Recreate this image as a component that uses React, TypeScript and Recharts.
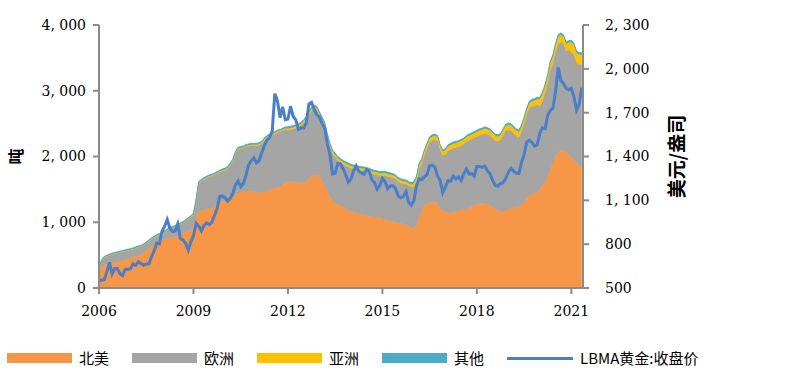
import { ComposedChart, Area, Line, XAxis, YAxis } from "recharts";

// monthly points, Jan 2006 .. May 2021
const startYear = 2006;
const yearTicks = [2006, 2009, 2012, 2015, 2018, 2021];
const tonTicks = [0, 1000, 2000, 3000, 4000];
const priceTicks = [500, 800, 1100, 1400, 1700, 2000, 2300];

// 北美 (tonnes)
const northAmerica = [
  275, 320, 350, 360, 370, 380, 385, 395, 405, 415, 425, 440,
  455, 470, 480, 495, 505, 530, 570, 600, 630, 660, 700, 725,
  730, 740, 760, 770, 775, 780, 790, 810, 835, 850, 870, 880,
  950, 1100, 1150, 1180, 1190, 1200, 1210, 1220, 1240, 1270, 1290, 1320,
  1340, 1350, 1360, 1380, 1420, 1450, 1460, 1470, 1475, 1475, 1470, 1465,
  1460, 1455, 1450, 1460, 1470, 1490, 1510, 1520, 1530, 1545, 1570, 1600,
  1610, 1615, 1615, 1610, 1605, 1605, 1610, 1620, 1660, 1700, 1720, 1710,
  1690, 1640, 1560, 1470, 1400, 1330, 1300, 1270, 1250, 1230, 1210, 1190,
  1160, 1150, 1140, 1130, 1120, 1110, 1100, 1090, 1085, 1080, 1080, 1075,
  1050, 1040, 1030, 1020, 1010, 1000, 990, 980, 975, 960, 940, 920,
  910, 960, 1080, 1180, 1250, 1285, 1300, 1310, 1310, 1280, 1200, 1170,
  1160, 1150, 1145, 1150, 1160, 1175, 1185, 1190, 1200, 1220, 1240, 1260,
  1270, 1285, 1290, 1280, 1270, 1250, 1230, 1210, 1180, 1160, 1160, 1180,
  1200, 1210, 1220, 1230, 1240, 1270, 1310, 1360, 1400, 1430, 1445, 1460,
  1500, 1560, 1620, 1690, 1800, 1900, 2000, 2060, 2100, 2090, 2060, 2030,
  1990, 1950, 1900, 1860, 1840,
];

// 欧洲 (tonnes)
const europe = [
  25, 90, 110, 120, 125, 130, 135, 135, 135, 135, 135, 130,
  125, 120, 125, 125, 125, 120, 110, 110, 110, 110, 90, 85,
  85, 105, 115, 125, 135, 145, 155, 155, 150, 165, 175, 195,
  160, 220, 440, 440, 460, 470, 480, 480, 480, 470, 470, 460,
  445, 465, 505, 545, 625, 655, 655, 655, 670, 680, 695, 700,
  700, 715, 740, 780, 810, 810, 800, 820, 830, 825, 820, 810,
  785, 790, 800, 815, 840, 860, 895, 935, 975, 995, 1005, 995,
  930, 900, 900, 820, 740, 710, 690, 670, 660, 650, 650, 650,
  660, 660, 660, 660, 665, 670, 670, 670, 655, 650, 640, 635,
  655, 670, 665, 665, 665, 655, 625, 615, 610, 615, 615, 615,
  625, 655, 735, 705, 765, 830, 915, 935, 945, 955, 895, 845,
  865, 935, 960, 975, 975, 970, 980, 995, 1025, 1025, 1025, 1025,
  1030, 1035, 1040, 1070, 1070, 1070, 1050, 1030, 1050, 1090, 1160, 1210,
  1200, 1180, 1130, 1080, 1050, 1100, 1180, 1270, 1330, 1330, 1325, 1330,
  1260, 1280, 1340, 1420, 1510, 1510, 1580, 1650, 1640, 1620, 1540, 1590,
  1600, 1590, 1520, 1540, 1555,
];

// 亚洲 and 其他, one value per year 2006..2021 (tonnes)
const asiaByYear = [5, 5, 8, 12, 15, 20, 30, 35, 35, 40, 60, 70, 75, 80, 110, 150];
const otherByYear = [15, 15, 17, 18, 20, 20, 25, 25, 25, 25, 25, 25, 25, 30, 30, 30];

// LBMA gold close (USD/oz)
const goldPrice = [
  549, 555, 557, 610, 676, 596, 633, 632, 598, 586, 627, 629,
  631, 665, 655, 679, 667, 655, 665, 665, 712, 754, 806, 803,
  889, 922, 968, 909, 888, 890, 939, 839, 829, 806, 760, 816,
  858, 943, 924, 890, 928, 946, 934, 949, 996, 1043, 1127, 1130,
  1118, 1095, 1113, 1148, 1205, 1233, 1193, 1215, 1271, 1343, 1370, 1391,
  1356, 1372, 1424, 1474, 1512, 1529, 1572, 1830, 1780, 1666, 1739, 1652,
  1656, 1743, 1674, 1650, 1585, 1596, 1594, 1630, 1760, 1770, 1722, 1685,
  1671, 1627, 1593, 1487, 1414, 1280, 1286, 1352, 1349, 1316, 1275, 1225,
  1244, 1300, 1336, 1299, 1288, 1279, 1311, 1296, 1239, 1222, 1176, 1202,
  1251, 1227, 1179, 1198, 1199, 1182, 1131, 1117, 1125, 1159, 1086, 1068,
  1097, 1200, 1246, 1242, 1260, 1276, 1337, 1341, 1326, 1267, 1236, 1152,
  1192, 1234, 1231, 1266, 1246, 1260, 1236, 1283, 1314, 1280, 1283, 1265,
  1331, 1331, 1325, 1335, 1303, 1282, 1238, 1202, 1198, 1215, 1221, 1250,
  1292, 1320, 1300, 1286, 1283, 1359, 1413, 1500, 1510, 1495, 1471, 1480,
  1560, 1597, 1591, 1683, 1716, 1732, 1847, 2010, 1922, 1900, 1866, 1858,
  1867, 1808, 1718, 1760, 1870,
];

const COLORS = {
  na: "#F79646",
  eu: "#A5A5A5",
  asia: "#FFC000",
  other: "#4BACC6",
  gold: "#4A7EC8",
};

const data = goldPrice.map((g, i) => ({
  t: startYear + i / 12,
  na: northAmerica[i],
  eu: europe[i],
  asia: asiaByYear[Math.floor(i / 12)],
  other: otherByYear[Math.floor(i / 12)],
  gold: g,
}));

const tickFont = { fontFamily: "DejaVu Serif, serif", fontSize: 14, fill: "#000" };
const axisStroke = "#8A8A8A";
const fmt = (v: number) => v.toLocaleString("en-US").replace(",", ", ");

const legendItems = [
  { name: "北美", color: COLORS.na, line: false },
  { name: "欧洲", color: COLORS.eu, line: false },
  { name: "亚洲", color: COLORS.asia, line: false },
  { name: "其他", color: COLORS.other, line: false },
  { name: "LBMA黄金:收盘价", color: COLORS.gold, line: true },
];

export default function App() {
  return (
    <div style={{ position: "absolute", left: 0, top: 0, width: 800, height: 383, background: "#fff" }}>
      <ComposedChart width={800} height={383} data={data} margin={{ top: 25, right: 0, bottom: 55, left: 0 }}>
        <XAxis
          dataKey="t"
          type="number"
          domain={[2006, 2021.37]}
          ticks={yearTicks}
          allowDataOverflow
          height={40}
          tick={tickFont}
          tickSize={6}
          tickMargin={12}
          axisLine={{ stroke: axisStroke, strokeWidth: 2 }}
          tickLine={{ stroke: axisStroke, strokeWidth: 2 }}
        />
        <YAxis
          yAxisId="left"
          domain={[0, 4000]}
          ticks={tonTicks}
          width={99}
          tick={tickFont}
          tickSize={6}
          tickMargin={7}
          tickFormatter={fmt}
          axisLine={{ stroke: axisStroke, strokeWidth: 2 }}
          tickLine={{ stroke: axisStroke, strokeWidth: 2 }}
          label={(props: any) => {
            const vb = props.viewBox;
            const cx = vb.x + 15;
            const cy = vb.y + vb.height / 2;
            return (
              <text x={cx} y={cy} transform={`rotate(-90, ${cx}, ${cy})`} textAnchor="middle" dominantBaseline="central"
                style={{ fontFamily: "Noto Sans CJK SC", fontSize: 16, fontWeight: 700 }}>
                吨
              </text>
            );
          }}
        />
        <YAxis
          yAxisId="right"
          orientation="right"
          domain={[500, 2300]}
          ticks={priceTicks}
          width={217}
          tick={tickFont}
          tickSize={6}
          tickMargin={16}
          tickFormatter={fmt}
          axisLine={{ stroke: axisStroke, strokeWidth: 2 }}
          tickLine={{ stroke: axisStroke, strokeWidth: 2 }}
          label={(props: any) => {
            const vb = props.viewBox;
            const cx = vb.x + 92;
            const cy = vb.y + vb.height / 2;
            return (
              <text x={cx} y={cy} transform={`rotate(-90, ${cx}, ${cy})`} textAnchor="middle" dominantBaseline="central"
                style={{ fontFamily: "Noto Sans CJK SC", fontSize: 19, fontWeight: 700 }}>
                美元/盎司
              </text>
            );
          }}
        />
        <Area yAxisId="left" type="linear" dataKey="na" name="北美" stackId="s" stroke={COLORS.na} fill={COLORS.na} fillOpacity={1} isAnimationActive={false} />
        <Area yAxisId="left" type="linear" dataKey="eu" name="欧洲" stackId="s" stroke={COLORS.eu} fill={COLORS.eu} fillOpacity={1} isAnimationActive={false} />
        <Area yAxisId="left" type="linear" dataKey="asia" name="亚洲" stackId="s" stroke={COLORS.asia} fill={COLORS.asia} fillOpacity={1} isAnimationActive={false} />
        <Area yAxisId="left" type="linear" dataKey="other" name="其他" stackId="s" stroke={COLORS.other} fill={COLORS.other} fillOpacity={1} isAnimationActive={false} />
        <Line yAxisId="right" type="linear" dataKey="gold" name="LBMA黄金:收盘价" stroke={COLORS.gold} strokeWidth={3} dot={false} isAnimationActive={false} />
      </ComposedChart>

      {/* legend */}
      <div style={{ position: "absolute", left: 7, top: 349, display: "flex", alignItems: "center", fontFamily: "Noto Sans CJK SC", fontSize: 15, color: "#000" }}>
        {legendItems.map((it) => (
          <div key={it.name} style={{ display: "flex", alignItems: "center", marginRight: 23 }}>
            {it.line ? (
              <span style={{ width: 66, height: 3, background: it.color, display: "inline-block" }} />
            ) : (
              <span style={{ width: 65, height: 10, background: it.color, display: "inline-block" }} />
            )}
            <span style={{ marginLeft: 7, lineHeight: "18px" }}>{it.name}</span>
          </div>
        ))}
      </div>
    </div>
  );
}
